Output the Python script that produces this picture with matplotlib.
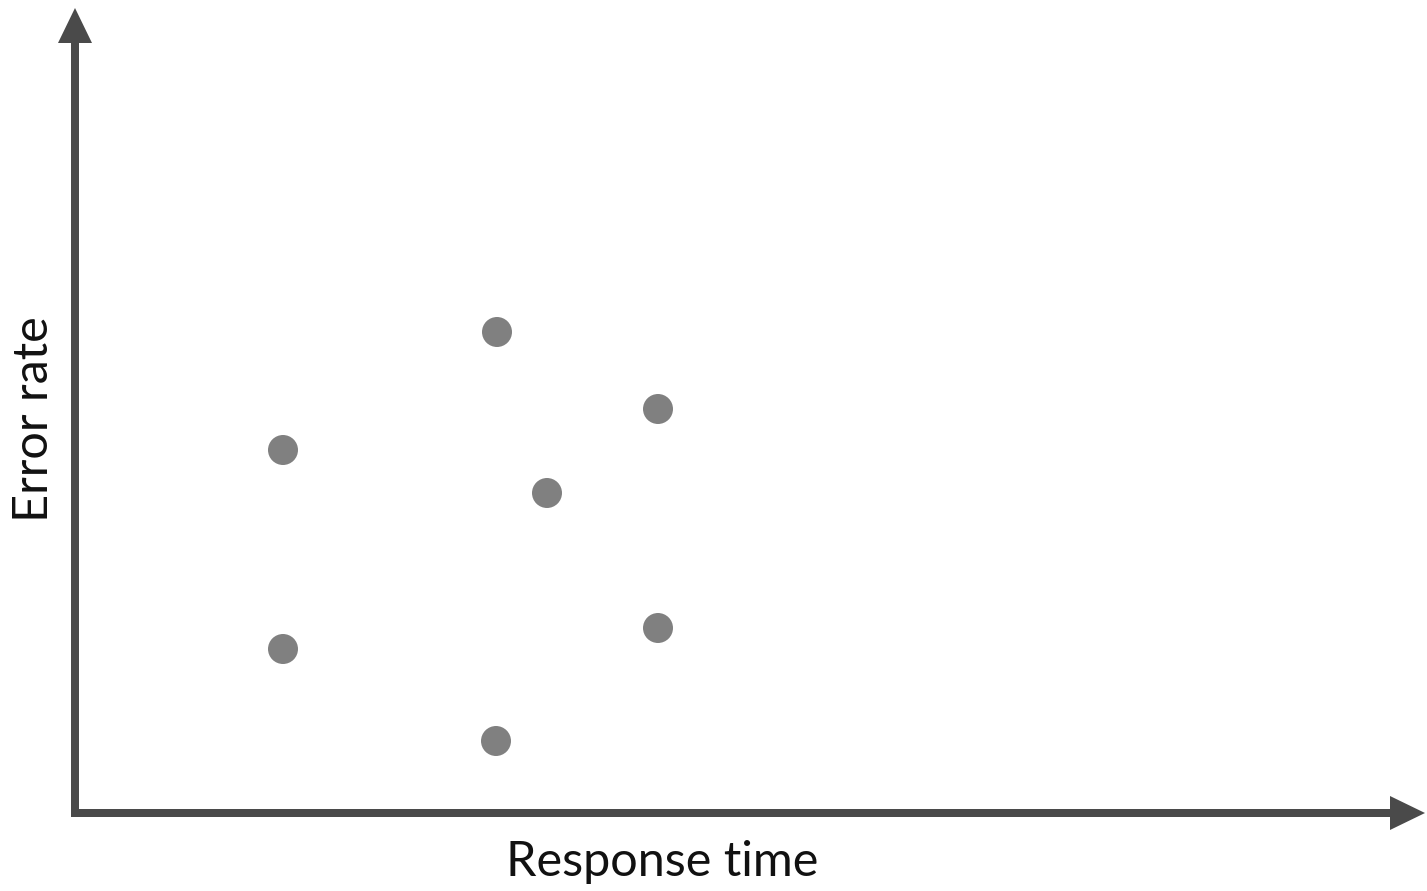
import matplotlib
matplotlib.use("Agg")
import matplotlib.pyplot as plt
from matplotlib.patches import FancyArrow

# points (x = response time, y = error rate, arbitrary units)
resp_time = [422, 583, 208, 472, 583, 208, 421]
err_rate = [481, 404, 363, 320, 185, 164, 72]

axis_col = "#4a4a4a"
dot_col = "#808080"

fig = plt.figure(figsize=(14.27, 8.91), dpi=100)
W, H = 1427, 891
x0, y0 = 75, 813          # axis corner in pixels
x1, ytop = 1425, 8        # arrow tips
ax = fig.add_axes([x0 / W, (H - y0) / H, (x1 - x0) / W, (y0 - ytop) / H])
ax.set_xlim(0, x1 - x0)
ax.set_ylim(0, y0 - ytop)
ax.axis("off")

ax.scatter(resp_time, err_rate, s=30 ** 2 * 0.5184, color=dot_col, edgecolors="none", zorder=3)

# axes drawn as arrows (data units are 1 px here so heads stay square)
xmax, ymax = ax.get_xlim()[1], ax.get_ylim()[1]
for dx, dy, sx, sy in [(xmax + 4, 0, -4, 0), (0, ymax, 0, 0)]:
    ax.add_patch(FancyArrow(sx, sy, dx, dy, width=8, head_width=34, head_length=35,
                            length_includes_head=True, color=axis_col, lw=0, clip_on=False))

fig.text(662 / W, 1 - 862 / H, "Response time", fontsize=35, family="Lato",
         ha="center", va="center", color="#111111")
fig.text(34 / W, 1 - 419 / H, "Error rate", fontsize=35, family="Lato",
         ha="center", va="center", rotation=90, color="#111111")

fig.savefig("out.png", dpi=100, facecolor="white")
